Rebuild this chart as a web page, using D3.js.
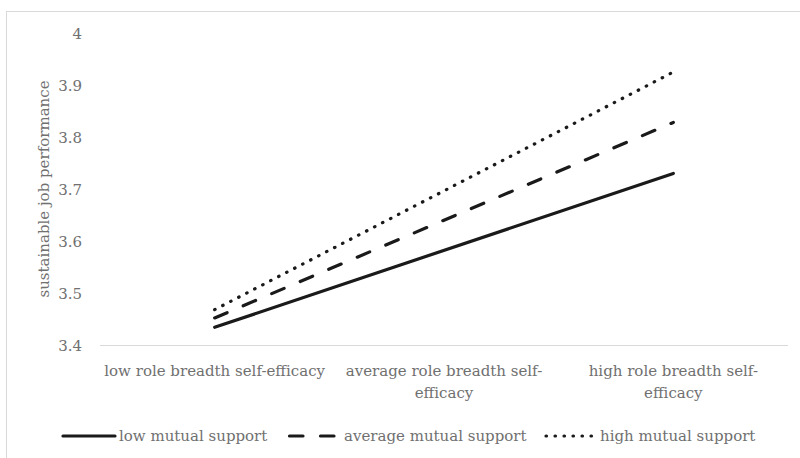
<!DOCTYPE html>
<html><head><meta charset="utf-8">
<script src="https://cdn.jsdelivr.net/npm/d3@7"></script>
<style>body{margin:0;background:#fff}svg{display:block}text{font-family:"DejaVu Serif",serif;fill:#707070}</style>
</head><body><svg id="c" width="800" height="458"></svg>
<script>
const categories = ["low role breadth self-efficacy","average role breadth self-efficacy","high role breadth self-efficacy"];
const categoryLines = [["low role breadth self-efficacy"],["average role breadth self-","efficacy"],["high role breadth self-","efficacy"]];
const seriesNames = ["low mutual support","average mutual support","high mutual support"];
const lowValues = [3.434, null, 3.730];
const averageValues = [3.452, null, 3.828];
const highValues = [3.468, null, 3.925];
const yTicks = [3.4,3.5,3.6,3.7,3.8,3.9,4];
const yTitle = "sustainable job performance";

const svg = d3.select("#c");
const fs = 15;
const txt = "#707070";
svg.append("rect").attr("x",6.5).attr("y",11.5).attr("width",820).attr("height",480).attr("fill","#fff").attr("stroke","#d9d9d9");

const x = d3.scaleBand().domain(categories).range([100,788]);
const y = d3.scaleLinear().domain([3.4,4]).range([345,33]);

svg.append("line").attr("x1",100).attr("x2",788).attr("y1",y(3.4)+0.5).attr("y2",y(3.4)+0.5).attr("stroke","#d9d9d9").attr("stroke-width",1);

const yAxis = d3.axisLeft(y).tickValues(yTicks).tickFormat(d=>d3.format("")(+d.toFixed(1))).tickSize(0).tickPadding(0);
const gy = svg.append("g").attr("transform","translate(82,0)").call(yAxis);
gy.select(".domain").remove();
gy.selectAll("text").attr("font-size",fs).style("font-family",'"DejaVu Serif",serif').attr("fill",txt).attr("dy","0.35em");

svg.append("text").attr("transform",`translate(44,${(y(3.4)+y(4))/2}) rotate(-90)`).attr("text-anchor","middle").attr("dy","0.35em").attr("font-size",fs).text(yTitle);

const gx = svg.append("g");
categories.forEach((c,i)=>{
  const t = gx.append("text").attr("x",x(c)+x.bandwidth()/2).attr("y",371).attr("text-anchor","middle").attr("font-size",fs);
  categoryLines[i].forEach((ln,j)=>t.append("tspan").attr("x",x(c)+x.bandwidth()/2).attr("dy",j===0?"0.35em":"22px").text(ln));
});

const styles = [
  {dash:null},
  {dash:"13.5,17.5"},
  {dash:"0.5,8.5"}
];
const series = [lowValues, averageValues, highValues];
const line = d3.line().x(d=>x(d.c)+x.bandwidth()/2).y(d=>y(d.v));
series.forEach((vals,i)=>{
  const pts = categories.map((c,k)=>({c,v:vals[k]})).filter(d=>d.v!=null);
  svg.append("path").datum(pts).attr("d",line).attr("fill","none").attr("stroke","#1a1a1a").attr("stroke-width",3.2)
    .attr("stroke-linecap","round").attr("stroke-dasharray",styles[i].dash);
});

const legendItems = [{x1:63,x2:115,tx:119},{x1:289.5,x2:334,tx:344},{x1:546,x2:593,tx:600}];
legendItems.forEach((L,i)=>{
  svg.append("line").attr("x1",L.x1).attr("x2",L.x2).attr("y1",436).attr("y2",436).attr("stroke","#1a1a1a").attr("stroke-width",3.2)
    .attr("stroke-linecap","round").attr("stroke-dasharray",styles[i].dash);
  svg.append("text").attr("x",L.tx).attr("y",436).attr("dy","0.35em").attr("font-size",fs).text(seriesNames[i]);
});
</script></body></html>
